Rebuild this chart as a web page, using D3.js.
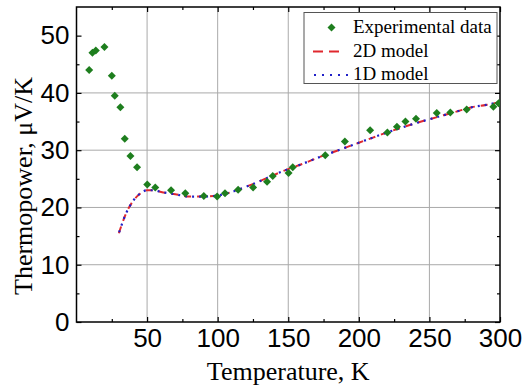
<!DOCTYPE html>
<html>
<head>
<meta charset="utf-8">
<script src="https://cdn.jsdelivr.net/npm/d3@7"></script>
<style>
  body { margin: 0; background: #fff; }
</style>
</head>
<body>
<script>
const w = 525;
const h = 390;

// experimental data (temperature K, thermopower uV/K)
const expT = [9, 11.3, 13.7, 19.8, 25, 27.1, 31.1, 34.2, 38.2, 42.9, 50.1, 55.8, 67, 77.1, 90.2, 99.6, 105.2, 114.5,
  125.1, 135, 139, 150.2, 153.2, 176.2, 190.1, 208, 220.2, 227, 233, 240.5, 255.2, 264.8, 276.4, 295.3, 299];
const expS = [44.0, 47.0, 47.4, 48.0, 43.0, 39.5, 37.5, 32.0, 29.0, 27.0, 24.0, 23.5, 23.0, 22.5, 22.0, 21.9, 22.5, 23.1,
  23.5, 24.5, 25.5, 26.0, 27.0, 29.1, 31.5, 33.5, 33.1, 34.1, 35.0, 35.5, 36.5, 36.6, 37.1, 37.6, 38.2];

// model curves
const modelT = [30, 35, 40, 45, 50, 55, 60, 70, 80, 90, 100, 110, 120, 130, 140, 150, 160, 170, 180, 190, 200,
  210, 220, 230, 240, 250, 260, 270, 280, 290, 300];
const model2D = [15.5, 18.9, 21.1, 22.4, 23.0, 23.0, 22.7, 22.3, 21.9, 21.9, 22.1, 22.7, 23.6, 24.6, 25.7, 26.7, 27.6,
  28.6, 29.5, 30.4, 31.3, 32.2, 33.1, 33.9, 34.7, 35.4, 36.1, 36.8, 37.5, 37.9, 38.4];
const model1D = [15.5, 18.9, 21.1, 22.4, 23.0, 23.0, 22.7, 22.3, 21.9, 21.9, 22.1, 22.7, 23.6, 24.6, 25.7, 26.7, 27.6,
  28.6, 29.5, 30.4, 31.3, 32.2, 33.1, 33.9, 34.7, 35.4, 36.1, 36.8, 37.5, 37.9, 38.4];

// ticks
const xMajor = [50, 100, 150, 200, 250, 300];
const xMinor = [25, 75, 125, 175, 225, 275];
const yMajor = [0, 10, 20, 30, 40, 50];
const yMinor = [5, 15, 25, 35, 45];
const xGrid = [50, 100, 150, 200, 250];
const yGrid = [10, 20, 30, 40];

const legendLabels = ["Experimental data", "2D model", "1D model"];

const pLeft = 76.5, pRight = 500, pTop = 7, pBottom = 322;

let svg = d3.select("body").append("svg")
    .attr("width", w)
    .attr("height", h)
    .style("background-color", "white");

let x = d3.scaleLinear().domain([0, 300]).range([pLeft, pRight]);
let y = d3.scaleLinear().domain([0, 55]).range([pBottom, pTop]);

// grid
svg.append("g").selectAll("line").data(xGrid).join("line")
    .attr("x1", d => x(d)).attr("x2", d => x(d))
    .attr("y1", pTop).attr("y2", pBottom)
    .attr("stroke", "#aaa").attr("stroke-width", 1);
svg.append("g").selectAll("line").data(yGrid).join("line")
    .attr("x1", pLeft).attr("x2", pRight)
    .attr("y1", d => y(d)).attr("y2", d => y(d))
    .attr("stroke", "#aaa").attr("stroke-width", 1);

function styleAxis(g) {
    g.select(".domain").remove();
    g.selectAll("line").attr("stroke", "#000").attr("stroke-width", 1.2);
    g.selectAll("text")
        .attr("font-family", "'Liberation Sans', Arial, sans-serif")
        .attr("font-size", 26)
        .attr("fill", "#000");
}

// bottom
svg.append("g").attr("transform", `translate(0,${pBottom})`)
    .call(d3.axisBottom(x).tickValues(xMajor).tickSize(-5).tickPadding(7))
    .call(styleAxis);
svg.append("g").attr("transform", `translate(0,${pBottom})`)
    .call(d3.axisBottom(x).tickValues(xMinor).tickSize(-3).tickFormat(""))
    .call(styleAxis);
// top
svg.append("g").attr("transform", `translate(0,${pTop})`)
    .call(d3.axisTop(x).tickValues(xMajor).tickSize(-5).tickFormat(""))
    .call(styleAxis);
svg.append("g").attr("transform", `translate(0,${pTop})`)
    .call(d3.axisTop(x).tickValues(xMinor).tickSize(-3).tickFormat(""))
    .call(styleAxis);
// left
svg.append("g").attr("transform", `translate(${pLeft},0)`)
    .call(d3.axisLeft(y).tickValues(yMajor).tickSize(-5).tickPadding(7))
    .call(styleAxis);
svg.append("g").attr("transform", `translate(${pLeft},0)`)
    .call(d3.axisLeft(y).tickValues(yMinor).tickSize(-3).tickFormat(""))
    .call(styleAxis);
// right
svg.append("g").attr("transform", `translate(${pRight},0)`)
    .call(d3.axisRight(y).tickValues(yMajor).tickSize(-5).tickFormat(""))
    .call(styleAxis);
svg.append("g").attr("transform", `translate(${pRight},0)`)
    .call(d3.axisRight(y).tickValues(yMinor).tickSize(-3).tickFormat(""))
    .call(styleAxis);

// frame
svg.append("rect")
    .attr("x", pLeft).attr("y", pTop)
    .attr("width", pRight - pLeft).attr("height", pBottom - pTop)
    .attr("fill", "none").attr("stroke", "#000").attr("stroke-width", 1.5);

svg.append("clipPath").attr("id", "clip")
    .append("rect").attr("x", pLeft).attr("y", pTop)
    .attr("width", pRight - pLeft).attr("height", pBottom - pTop);

let plot = svg.append("g").attr("clip-path", "url(#clip)");

let line = d3.line()
    .x(d => x(d[0]))
    .y(d => y(d[1]))
    .curve(d3.curveMonotoneX);

plot.append("path")
    .datum(d3.zip(modelT, model2D))
    .attr("fill", "none")
    .attr("stroke", "#e0282e")
    .attr("stroke-width", 2)
    .attr("stroke-dasharray", "7,6")
    .attr("d", line);

plot.append("path")
    .datum(d3.zip(modelT, model1D))
    .attr("fill", "none")
    .attr("stroke", "#2020c8")
    .attr("stroke-width", 2.2)
    .attr("stroke-dasharray", "2,5")
    .attr("stroke-dashoffset", -8)
    .attr("d", line);

let diamond = d3.symbol().type(d3.symbolSquare).size(32);

plot.append("g").selectAll("path")
    .data(d3.zip(expT, expS))
    .join("path")
    .attr("d", diamond)
    .attr("transform", d => `translate(${x(d[0])},${y(d[1])}) rotate(45)`)
    .attr("fill", "#1e7e1e");

// legend
let lg = svg.append("g");
lg.append("rect")
    .attr("x", 304).attr("y", 12.5)
    .attr("width", 193).attr("height", 71)
    .attr("fill", "white").attr("stroke", "#555").attr("stroke-width", 1);

let rows = [27.5, 51.5, 75];
lg.append("path")
    .attr("d", diamond)
    .attr("transform", `translate(331.5,${rows[0]}) rotate(45)`)
    .attr("fill", "#1e7e1e");
lg.append("line")
    .attr("x1", 313).attr("x2", 345).attr("y1", rows[1]).attr("y2", rows[1])
    .attr("stroke", "#e0282e").attr("stroke-width", 2).attr("stroke-dasharray", "10,6");
lg.append("line")
    .attr("x1", 314).attr("x2", 352).attr("y1", rows[2]).attr("y2", rows[2])
    .attr("stroke", "#2020c8").attr("stroke-width", 2.2).attr("stroke-dasharray", "2,6");

lg.selectAll("text").data(legendLabels).join("text")
    .attr("x", 353)
    .attr("y", (d, i) => rows[i] + 5)
    .attr("font-family", "'Liberation Serif', 'Times New Roman', serif")
    .attr("font-size", 19)
    .attr("fill", "#000")
    .text(d => d);

// axis titles
svg.append("text")
    .attr("x", (pLeft + pRight) / 2)
    .attr("y", 380)
    .attr("text-anchor", "middle")
    .attr("font-family", "'Liberation Serif', 'Times New Roman', serif")
    .attr("font-size", 26)
    .text("Temperature, K");

svg.append("text")
    .attr("transform", "translate(32,186) rotate(-90)")
    .attr("text-anchor", "middle")
    .attr("font-family", "'Liberation Serif', 'Times New Roman', serif")
    .attr("font-size", 26)
    .text("Thermopower, \u03bcV/K");
</script>
</body>
</html>
